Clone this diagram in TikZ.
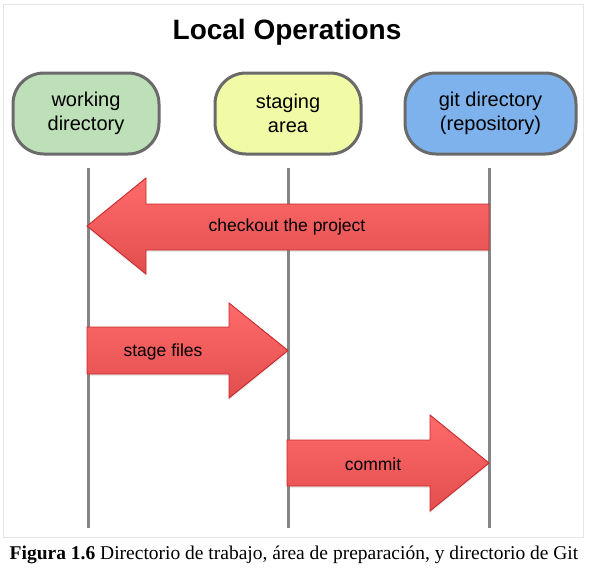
\documentclass[tikz,border=0pt]{standalone}
\usepackage{fontspec}
\setmainfont{Liberation Serif}
\setsansfont{Liberation Sans}
\usetikzlibrary{shadows}
\definecolor{wdgreen}{HTML}{BEE0B9}
\definecolor{sayellow}{HTML}{F1FAA5}
\definecolor{gdblue}{HTML}{7EB2EC}
\definecolor{boxborder}{HTML}{6A6A6A}
\definecolor{lifeline}{HTML}{858585}
\definecolor{arrowtop}{HTML}{FF6A6A}
\definecolor{arrowbot}{HTML}{E24E4E}
\definecolor{arrowedge}{HTML}{C8282C}
\definecolor{framegray}{HTML}{E6E6E6}
\tikzset{
  headbox/.style={draw=boxborder, line width=3pt, rounded corners=31pt,
    minimum height=81pt, align=center, inner sep=0pt,
    font=\sffamily\fontsize{20}{24}\selectfont},
  lifelinestyle/.style={draw=lifeline, line width=3pt},
  blockarrow/.style={top color=arrowtop, bottom color=arrowbot, draw=arrowedge,
    line width=0.9pt, line join=miter,
    drop shadow={opacity=0.18, shadow xshift=0pt, shadow yshift=-2pt}},
  arrowlabel/.style={font=\sffamily\fontsize{17.5}{20}\selectfont, text=black, inner sep=0pt}
}
\begin{document}
\begin{tikzpicture}[x=1pt,y=-1pt]
\useasboundingbox (0,0) rectangle (593,570);
% frame
\draw[framegray, line width=1pt] (3.5,4.5) rectangle (583,537);
% title
\node[font=\sffamily\bfseries\fontsize{28}{32}\selectfont, inner sep=0pt] (title) at (287,32) {Local Operations};
% header boxes
\node[headbox, fill=wdgreen, minimum width=146pt] (wd) at (86,113.5) {working\\directory};
\node[headbox, fill=sayellow, minimum width=146pt] (sa) at (288,113.5) {staging\\area};
\node[headbox, fill=gdblue, minimum width=171pt] (gd) at (490.5,113.5) {git directory\\(repository)};
% lifelines
\coordinate (wdtop) at (88,168); \coordinate (wdbot) at (88,528);
\coordinate (satop) at (288,168); \coordinate (sabot) at (288,528);
\coordinate (gdtop) at (489,168); \coordinate (gdbot) at (489,528);
\draw[lifelinestyle] (wdtop) -- (wdbot);
\draw[lifelinestyle] (satop) -- (sabot);
\draw[lifelinestyle] (gdtop) -- (gdbot);
% checkout arrow
\path[blockarrow] (489,204) -- (146,204) -- (146,178) -- (87,226) -- (146,274) -- (146,250) -- (489,250) -- cycle;
\node[arrowlabel] (checkout) at (287,227) {checkout the project};
% stage files arrow
\path[blockarrow] (87,327) -- (229,327) -- (229,303) -- (288,350.5) -- (229,398) -- (229,374) -- (87,374) -- cycle;
\node[arrowlabel] (stage) at (163,351.5) {stage files};
% commit arrow
\path[blockarrow] (287,440) -- (430,440) -- (430,415) -- (489,463) -- (430,511) -- (430,486) -- (287,486) -- cycle;
\node[arrowlabel] (commit) at (373,464) {commit};
% caption
\node[font=\fontsize{19.5}{22}\selectfont, inner sep=0pt] (caption) at (294,555) {\textbf{Figura 1.6} Directorio de trabajo, área de preparación, y directorio de Git};
\end{tikzpicture}
\end{document}
